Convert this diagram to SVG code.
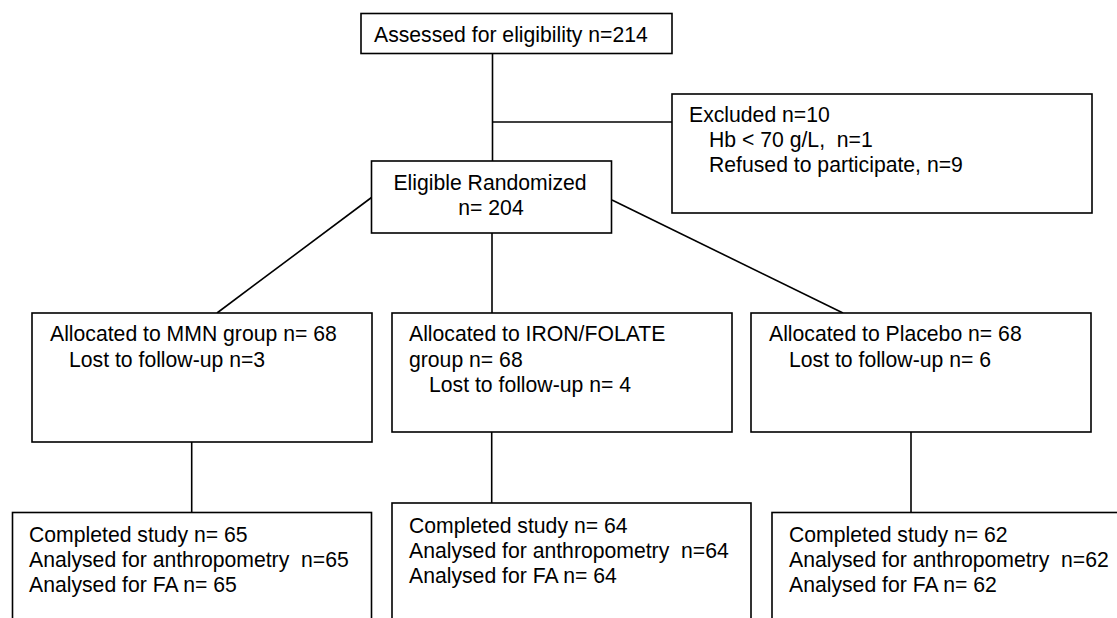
<svg xmlns="http://www.w3.org/2000/svg" width="1117" height="618" viewBox="0 0 1117 618">
<style>
.box{fill:#fff;stroke:#000;stroke-width:1.6}
.ln{stroke:#000;stroke-width:1.6;fill:none}
text{font-family:"Liberation Sans",Arial,sans-serif;font-size:21.2px;fill:#000;white-space:pre}
</style>
<rect width="1117" height="618" fill="#fff"/>
<g id="connectors">
<line class="ln" x1="492.5" y1="53" x2="492.5" y2="161"/>
<line class="ln" x1="492.5" y1="122" x2="672" y2="122"/>
<line class="ln" x1="371.5" y1="197.5" x2="217" y2="313"/>
<line class="ln" x1="492" y1="233" x2="492" y2="313"/>
<line class="ln" x1="612" y1="200" x2="843" y2="313"/>
<line class="ln" x1="191.7" y1="442" x2="191.7" y2="512"/>
<line class="ln" x1="491.7" y1="432" x2="491.7" y2="503"/>
<line class="ln" x1="911" y1="432" x2="911" y2="512"/>
</g>
<g id="assessed">
<rect class="box" x="361" y="13.5" width="311" height="40"/>
<text x="374" y="42">Assessed for eligibility n=214</text>
</g>
<g id="excluded">
<rect class="box" x="672" y="94" width="420" height="119"/>
<text x="689" y="122">Excluded n=10</text>
<text x="709" y="147">Hb &lt; 70 g/L,  n=1</text>
<text x="709" y="172">Refused to participate, n=9</text>
</g>
<g id="eligible">
<rect class="box" x="371.5" y="161" width="240" height="72"/>
<text x="490" y="190" text-anchor="middle">Eligible Randomized</text>
<text x="491" y="215" text-anchor="middle">n= 204</text>
</g>
<g id="mmn">
<rect class="box" x="32" y="313" width="340" height="129"/>
<text x="50" y="341">Allocated to MMN group n= 68</text>
<text x="69" y="366.5">Lost to follow-up n=3</text>
</g>
<g id="iron">
<rect class="box" x="392" y="313" width="340" height="119"/>
<text x="409" y="341">Allocated to IRON/FOLATE</text>
<text x="409" y="366.5">group n= 68</text>
<text x="429" y="392">Lost to follow-up n= 4</text>
</g>
<g id="placebo">
<rect class="box" x="751" y="313" width="340" height="119"/>
<text x="769" y="341">Allocated to Placebo n= 68</text>
<text x="789" y="366.5">Lost to follow-up n= 6</text>
</g>
<g id="mmn-completed">
<rect class="box" x="12.5" y="512.5" width="359" height="130"/>
<text x="29" y="542">Completed study n= 65</text>
<text x="29" y="567">Analysed for anthropometry  n=65</text>
<text x="29" y="592">Analysed for FA n= 65</text>
</g>
<g id="iron-completed">
<rect class="box" x="392" y="503" width="359" height="140"/>
<text x="409" y="532.5">Completed study n= 64</text>
<text x="409" y="557.5">Analysed for anthropometry  n=64</text>
<text x="409" y="582.5">Analysed for FA n= 64</text>
</g>
<g id="placebo-completed">
<rect class="box" x="772" y="512.5" width="360" height="130"/>
<text x="789" y="542">Completed study n= 62</text>
<text x="789" y="567">Analysed for anthropometry  n=62</text>
<text x="789" y="592">Analysed for FA n= 62</text>
</g>
</svg>
